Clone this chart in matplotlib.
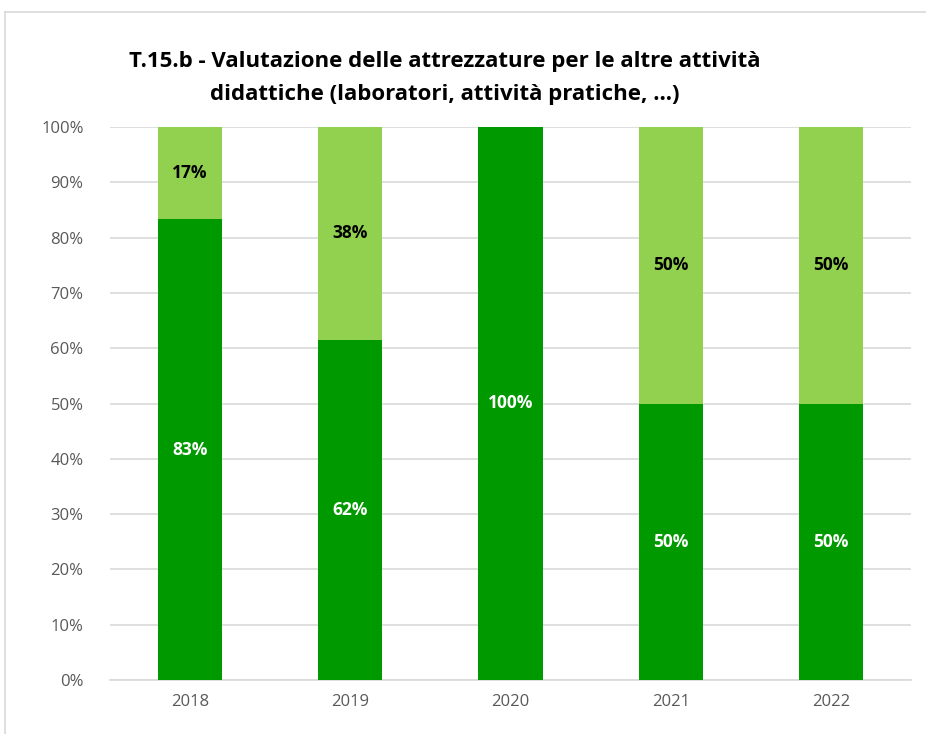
import matplotlib
matplotlib.use("Agg")
import matplotlib.pyplot as plt
from matplotlib.lines import Line2D
import numpy as np

years = ["2018", "2019", "2020", "2021", "2022"]
positive = [83.33, 61.54, 100.0, 50.0, 50.0]
negative = [16.67, 38.46, 0.0, 50.0, 50.0]
title = "T.15.b - Valutazione delle attrezzature per le altre attività\ndidattiche (laboratori, attività pratiche, …)"

plt.rcParams['font.family'] = ['Open Sans', 'DejaVu Sans']

W, H = 926, 734
fig = plt.figure(figsize=(W/100, H/100), dpi=100)
ax = fig.add_axes([110/W, 1-680/H, 801/W, 553/H])

dark = "#009900"
light = "#92D050"
x = np.arange(len(years))
ax.bar(x, positive, width=0.4, color=dark, zorder=3)
ax.bar(x, negative, width=0.4, bottom=positive, color=light, zorder=3)

for i in range(len(years)):
    if positive[i] > 0:
        ax.text(x[i], positive[i]/2, f"{positive[i]:.0f}%", ha="center", va="center",
                color="white", fontsize=12.5, fontweight="bold", zorder=4)
    if negative[i] > 0:
        ax.text(x[i], positive[i] + negative[i]/2, f"{negative[i]:.0f}%", ha="center", va="center",
                color="black", fontsize=12.5, fontweight="bold", zorder=4)

ax.set_xlim(-0.5, len(years)-0.5)
ax.set_ylim(0, 100)
ax.set_yticks(np.arange(0, 101, 10))
ax.set_yticklabels([f"{v}%" for v in range(0, 101, 10)])
ax.set_xticks(x)
ax.set_xticklabels(years)
ax.tick_params(axis="both", length=0, colors="#595959", labelsize=12)
ax.tick_params(axis="y", pad=19)
ax.tick_params(axis="x", pad=10)
ax.grid(axis="y", color="#d9d9d9", linewidth=1.2, zorder=0)
for s in ["top", "right", "left"]:
    ax.spines[s].set_visible(False)
ax.spines["bottom"].set_color("#d9d9d9")
ax.spines["bottom"].set_linewidth(1.2)

fig.text(445/W, 1-78/H, title, ha="center", va="center", fontsize=16,
         fontweight="bold", color="black", linespacing=1.75)

fig.add_artist(Line2D([5/W, 1], [1-12/H, 1-12/H], transform=fig.transFigure,
                      color="#d9d9d9", linewidth=1.2))
fig.add_artist(Line2D([5/W, 5/W], [0, 1-12/H], transform=fig.transFigure,
                      color="#d9d9d9", linewidth=1.2))

fig.savefig("out.png", dpi=100)
